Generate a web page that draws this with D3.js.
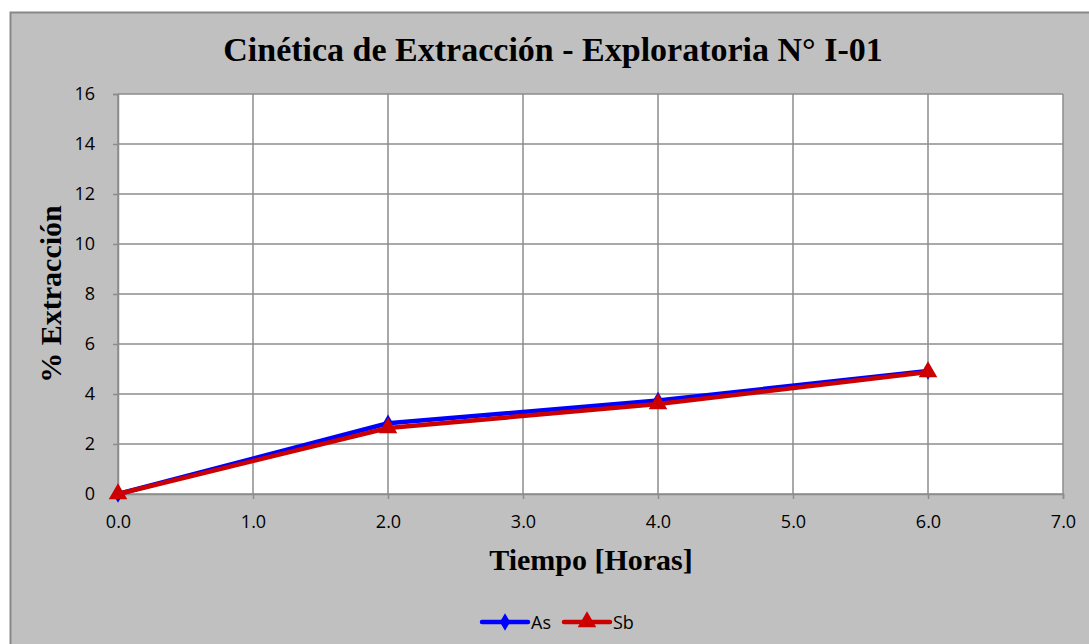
<!DOCTYPE html>
<html>
<head>
<meta charset="utf-8">
<script src="https://cdn.jsdelivr.net/npm/d3@7"></script>
<style>
  body { margin: 0; background: #fff; }
  svg { display: block; }
</style>
</head>
<body>
<svg id="chart" width="1089" height="644"></svg>
<script>
// data
const horas = [0, 2, 4, 6];
const asVals = [0, 2.83, 3.74, 4.92];
const sbVals = [0, 2.64, 3.6, 4.88];
const xTicks = [0, 1, 2, 3, 4, 5, 6, 7];
const yTicks = [0, 2, 4, 6, 8, 10, 12, 14, 16];
const series = [
  { name: "As", vals: asVals, color: "#0000ff", shape: d3.symbolDiamond, size: 90 },
  { name: "Sb", vals: sbVals, color: "#cc0000", shape: d3.symbolTriangle, size: 150 }
];

const svg = d3.select("#chart");
const m = { left: 118, right: 1063, top: 94, bottom: 494 };

// chart background
svg.append("rect").attr("x", 10.5).attr("y", 12.5).attr("width", 1090).attr("height", 640)
  .style("fill", "#c0c0c0").style("stroke", "#888").style("stroke-width", 2);

svg.append("rect").attr("x", m.left).attr("y", m.top)
  .attr("width", m.right - m.left).attr("height", m.bottom - m.top).style("fill", "#fff");

const x = d3.scaleLinear().domain([0, 7]).range([m.left, m.right]);
const y = d3.scaleLinear().domain([0, 16]).range([m.bottom, m.top]);

// gridlines
svg.append("g").selectAll("line").data(xTicks).enter().append("line")
  .attr("x1", d => x(d)).attr("x2", d => x(d)).attr("y1", m.top).attr("y2", m.bottom)
  .style("stroke", "#8c8c8c").style("stroke-width", 1.5);
svg.append("g").selectAll("line").data(yTicks).enter().append("line")
  .attr("x1", m.left).attr("x2", m.right).attr("y1", d => y(d)).attr("y2", d => y(d))
  .style("stroke", "#8c8c8c").style("stroke-width", 1.5);

// axes
const xAxis = svg.append("g").attr("transform", "translate(0," + m.bottom + ")")
  .call(d3.axisBottom(x).tickValues(xTicks).tickFormat(d3.format(".1f")).tickSize(5).tickPadding(16));
const yAxis = svg.append("g").attr("transform", "translate(" + m.left + ",0)")
  .call(d3.axisLeft(y).tickValues(yTicks).tickSize(5).tickPadding(18));
[xAxis, yAxis].forEach(a => {
  a.attr("font-size", null).attr("font-family", null);
  a.select(".domain").style("stroke", "#8c8c8c").style("stroke-width", 1.5);
  a.selectAll(".tick line").style("stroke", "#8c8c8c").style("stroke-width", 1.5);
  a.selectAll("text").style("font-family", "'Open Sans', Lato, sans-serif")
    .style("font-size", "18px").style("fill", "#000");
});

// lines + markers
const line = d3.line().x((d, i) => x(horas[i])).y(d => y(d));
series.forEach(s => {
  svg.append("path").datum(s.vals).attr("d", line)
    .style("fill", "none").style("stroke", s.color).style("stroke-width", 4.5)
    .style("stroke-linejoin", "round");
  svg.append("g").selectAll("path").data(s.vals).enter().append("path")
    .attr("d", d3.symbol().type(s.shape).size(s.size))
    .attr("transform", (d, i) => "translate(" + x(horas[i]) + "," + y(d) + ")")
    .style("fill", s.color);
});

// titles
svg.append("text").attr("x", 553).attr("y", 61).attr("text-anchor", "middle")
  .style("font-family", "'Liberation Serif', 'Times New Roman', serif").style("font-weight", "bold")
  .style("font-size", "34px").text("Cinética de Extracción - Exploratoria N° I-01");
svg.append("text").attr("x", 591).attr("y", 570).attr("text-anchor", "middle")
  .style("font-family", "'Liberation Serif', 'Times New Roman', serif").style("font-weight", "bold")
  .style("font-size", "30px").text("Tiempo [Horas]");
svg.append("text").attr("transform", "translate(61,294) rotate(-90)").attr("text-anchor", "middle")
  .style("font-family", "'Liberation Serif', 'Times New Roman', serif").style("font-weight", "bold")
  .style("font-size", "30px").text("% Extracción");

// legend
const legX = [482, 564];
series.forEach((s, i) => {
  const g = svg.append("g").attr("transform", "translate(" + legX[i] + ",622)");
  g.append("line").attr("x1", 0).attr("x2", 46).attr("y1", 0).attr("y2", 0)
    .style("stroke", s.color).style("stroke-width", 4.5).style("stroke-linecap", "round");
  g.append("path").attr("d", d3.symbol().type(s.shape).size(s.size)).attr("transform", "translate(23,0)")
    .style("fill", s.color);
  g.append("text").attr("x", 49).attr("y", 7).text(s.name)
    .style("font-family", "'Open Sans', Lato, sans-serif").style("font-size", "18px");
});
</script>
</body>
</html>
